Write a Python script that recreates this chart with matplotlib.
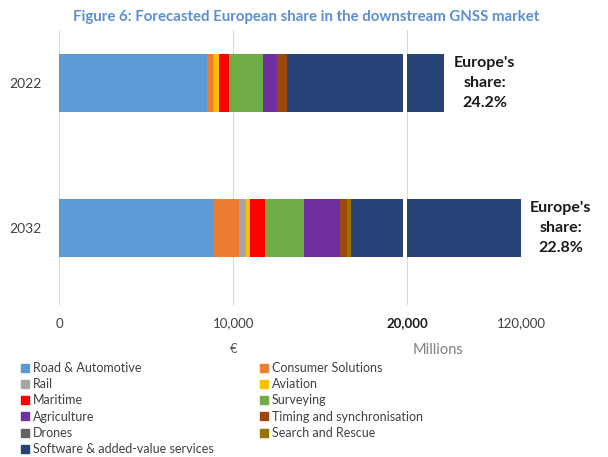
import numpy as np
import matplotlib
matplotlib.use("Agg")
import matplotlib.pyplot as plt
from matplotlib.patches import Patch

plt.rcParams["font.family"] = ["Lato", "DejaVu Sans"]

# ── data (EUR millions) ──────────────────────────────────────────────
YEARS = ["2022", "2032"]
SEGMENTS = ["Road & Automotive", "Consumer Solutions", "Rail", "Aviation",
            "Maritime", "Surveying", "Agriculture", "Timing and synchronisation",
            "Drones", "Search and Rescue", "Software & added-value services"]
COLORS = ["#5b9bd5", "#ed7d31", "#a5a5a5", "#ffc000", "#ff0000", "#70ad47",
          "#7030a0", "#9e480e", "#636363", "#997300", "#264478"]
V2022 = [8470, 380, 30, 290, 575, 1975, 805, 535, 10, 10, 39100]
V2032 = [8815, 1510, 385, 230, 900, 2200, 2070, 400, 10, 230, 102250]
SHARE = ["24.2%", "22.8%"]
TICKS = [0, 10000, 20000, 120000]

# axis break: linear up to 20k, squashed above
BREAK = 20000
SQUASH = 0.06575
GAP = 240


def squash(v):
    v = np.asarray(v, dtype=float)
    return np.where(v <= BREAK, v, BREAK + (v - BREAK) * SQUASH)


fig = plt.figure(figsize=(6.08, 4.57), dpi=100)
ax = fig.add_axes([0.0975, 0.3326, 0.7605, 0.6018])

ypos = [1, 0]
for vals, y, share in zip([V2022, V2032], ypos, SHARE):
    left = 0
    for v, c in zip(vals, COLORS):
        l, r = squash(left), squash(left + v)
        ax.barh(y, r - l, left=l, height=0.4, color=c, zorder=2)
        left += v
    # white gap marking the break
    gl = squash(BREAK - GAP)
    ax.barh(y, squash(BREAK) - gl, left=gl, height=0.42, color="white", zorder=3)
    ax.annotate(f"Europe's\nshare:\n{share}", xy=(squash(left), y),
                xytext=(7, 0), textcoords="offset points", ha="left", va="center",
                multialignment="center", fontsize=11.5, weight="bold",
                color="#1a1a1a", linespacing=1.55, annotation_clip=False)

ax.set_xlim(0, float(squash(TICKS[-1])))
ax.set_ylim(-0.531, 1.366)
ax.set_xticks(squash(TICKS))
ax.set_xticklabels([f"{t:,}" for t in TICKS], fontsize=9.5, color="#404040")
ax.get_xticklabels()[2].set_weight("bold")
ax.get_xticklabels()[2].set_color("#1a1a1a")
ax.set_yticks(ypos)
ax.set_yticklabels(YEARS, fontsize=10, color="#404040")
ax.tick_params(axis="x", length=0, pad=9)
ax.tick_params(axis="y", length=0, pad=13)
ax.grid(axis="x", color="#d9d9d9", lw=0.8)
ax.set_axisbelow(True)
for s in ax.spines.values():
    s.set_visible(False)

fig.text(0.503, 1 - 17 / 457, "Figure 6: Forecasted European share in the downstream GNSS market",
         ha="center", va="center", fontsize=10.8, weight="bold", color="#5b8fd0")
fig.text(234 / 608, 1 - 349 / 457, "€", ha="center", va="center", fontsize=9.5, color="#595959")
fig.text(438 / 608, 1 - 350 / 457, "Millions", ha="center", va="center", fontsize=10.5, color="#7f7f7f")

# legend: two columns, row-wise order as in the original
order = [0, 2, 4, 6, 8, 10, 1, 3, 5, 7, 9]
handles = [Patch(color=COLORS[i]) for i in order]
labels = [SEGMENTS[i] for i in order]
fig.legend(handles, labels, ncol=2, loc="upper left", bbox_to_anchor=(0.035, 1 - 362 / 457),
           frameon=False, fontsize=9, labelcolor="#404040", handlelength=0.6, handleheight=0.6,
           handletextpad=0.35, columnspacing=3.7, labelspacing=0.34, borderaxespad=0, borderpad=0)

fig.savefig("out.png", dpi=100)
